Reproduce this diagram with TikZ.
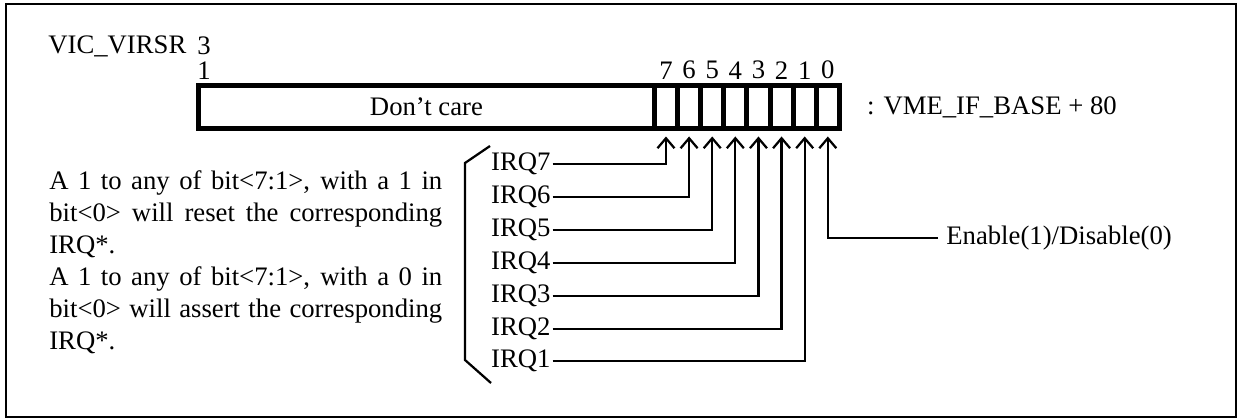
\documentclass[tikz,border=0pt]{standalone}
\usepackage{fontspec}
\setmainfont{Liberation Serif}
\usepackage{tikz}
\usetikzlibrary{arrows.meta}
\tikzset{sig/.style={draw,line width=0.045cm,-{Straight Barb[length=0.2cm,width=0.34cm,line width=0.045cm]},shorten >=0.16cm}}
\tikzstyle{regbox}=[rectangle,draw=black,line width=0.1cm,outer sep=0pt,inner sep=0pt,minimum height=0.86cm,anchor=west]
\tikzstyle{bitcell}=[regbox,minimum width=0.4625cm]
\tikzstyle{bitnum}=[inner sep=0pt]
\tikzstyle{irqlabel}=[inner sep=1pt,anchor=west]

\begin{document}
\fontsize{15.2}{18.2}\selectfont
\begin{tikzpicture}[x=0.02cm,y=-0.02cm]
	\useasboundingbox (0,0) rectangle (1237,418);
	\draw[line width=0.04cm] (6,4) rectangle (1235.5,416.5);
	\node at (48,46.5) [anchor=west,inner sep=0pt] (name) {VIC\_VIRSR};
	\node at (204,46) [bitnum] (hi1) {3};
	\node at (204,71) [bitnum] (hi2) {1};
	% register: don't care field + bits 7..0
	\node at (198.5,107) [regbox,minimum width=9.12cm] (dc) {Don't care};
	\node at (dc.east) [bitcell] (b7) {};
	\node at (b7.east) [bitcell] (b6) {};
	\node at (b6.east) [bitcell] (b5) {};
	\node at (b5.east) [bitcell] (b4) {};
	\node at (b4.east) [bitcell] (b3) {};
	\node at (b3.east) [bitcell] (b2) {};
	\node at (b2.east) [bitcell] (b1) {};
	\node at (b1.east) [bitcell] (b0) {};
	\foreach \i in {7,...,0}
		\node[bitnum,above=0.12cm] at (b\i.north) (n\i) {\i};
	\node at (b0.east) [anchor=west,xshift=0.55cm,inner sep=0pt] (addr) {: VME\_IF\_BASE + 80};
	% note on the left
	\node at (49,170) [anchor=north west,inner sep=0pt,text width=7.86cm,align=justify] (note)
		{A 1 to any of bit<7:1>, with a 1 in bit<0> will reset the corresponding IRQ*.\\
		A 1 to any of bit<7:1>, with a 0 in bit<0> will assert the corresponding IRQ*.};
	\draw[line width=0.045cm] (490,146) -- (465,163) -- (465,360) -- (491,383);
	\node at (489,164) [irqlabel] (q7) {IRQ7};
	\node at (489,197) [irqlabel] (q6) {IRQ6};
	\node at (489,230) [irqlabel] (q5) {IRQ5};
	\node at (489,263) [irqlabel] (q4) {IRQ4};
	\node at (489,296) [irqlabel] (q3) {IRQ3};
	\node at (489,329) [irqlabel] (q2) {IRQ2};
	\node at (489,361) [irqlabel] (q1) {IRQ1};
	\foreach \i in {7,...,1}
		\draw[sig] (q\i.east) -| (b\i.south);
	\node at (938,238) [anchor=west,inner sep=0.16cm] (en) {Enable(1)/Disable(0)};
	\draw[sig] (en.west) -| (b0.south);
\end{tikzpicture}
\end{document}
